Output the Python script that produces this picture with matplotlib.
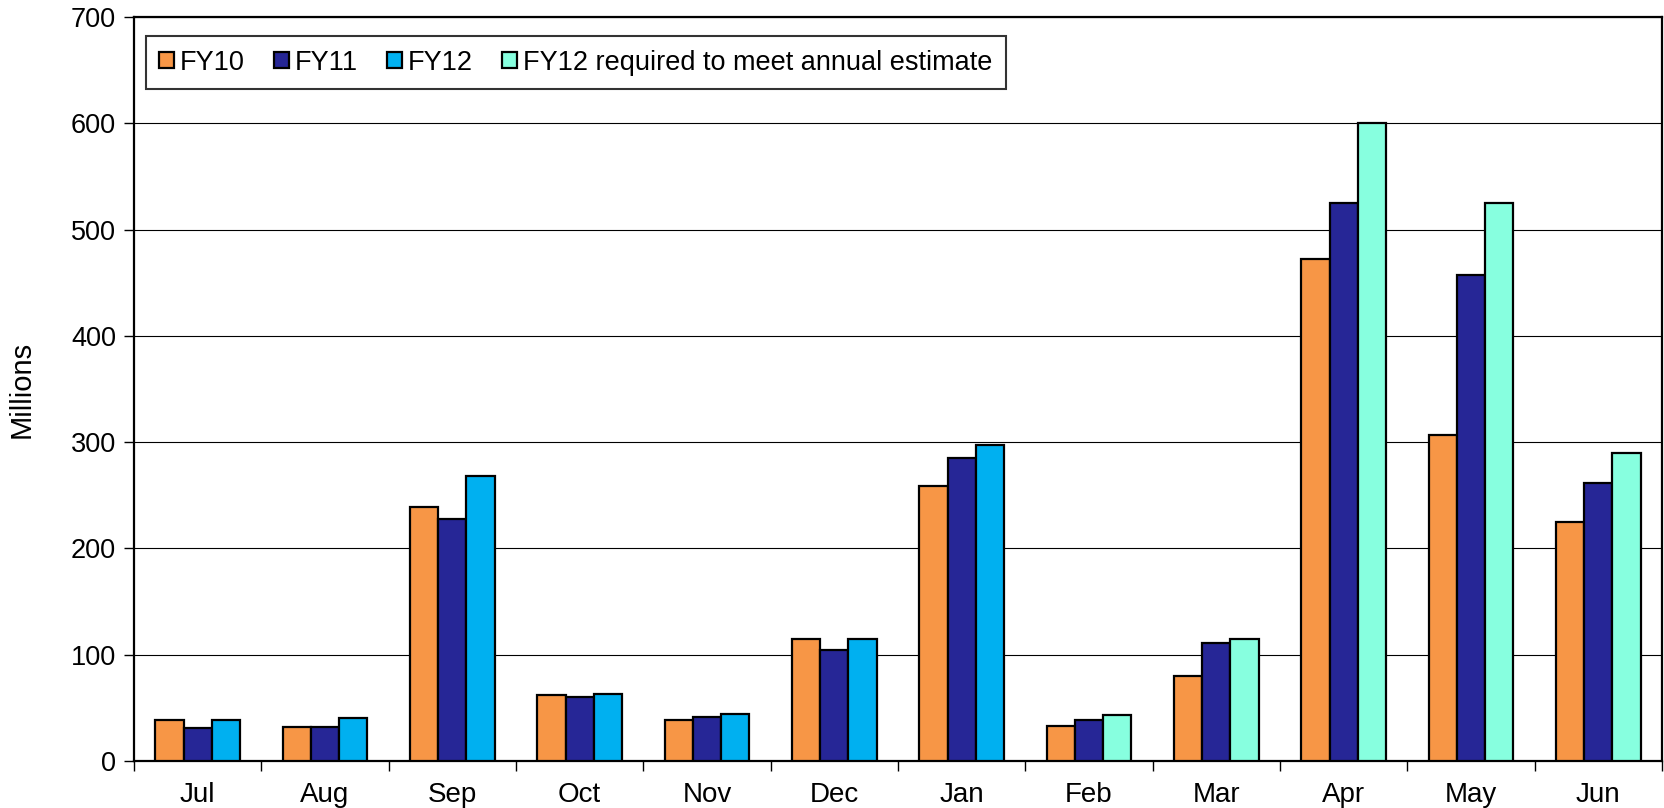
import numpy as np
import matplotlib
matplotlib.use("Agg")
import matplotlib.pyplot as plt

plt.rcParams['font.family'] = ['Liberation Sans', 'DejaVu Sans']

months = ["Jul", "Aug", "Sep", "Oct", "Nov", "Dec", "Jan", "Feb", "Mar", "Apr", "May", "Jun"]
fy10 = [39, 32, 239, 62, 39, 115, 259, 33, 80, 472, 307, 225]
fy11 = [31, 32, 228, 60, 41, 104, 285, 39, 111, 525, 457, 262]
fy12 = [39, 40, 268, 63, 44, 115, 297, np.nan, np.nan, np.nan, np.nan, np.nan]
fy12_req = [np.nan, np.nan, np.nan, np.nan, np.nan, np.nan, np.nan, 43, 115, 600, 525, 290]

labels = ["FY10", "FY11", "FY12", "FY12 required to meet annual estimate"]
colors = ["#F79646", "#262696", "#00B0F0", "#87FFDF"]

fig = plt.figure(figsize=(16.64, 8.08), dpi=100)
ax = fig.add_axes([134 / 1664, 1 - 761 / 808, (1662 - 134) / 1664, (761 - 17) / 808])

x = np.arange(len(months))
w = 0.222
offsets = [-w, 0, w, w]
series = [fy10, fy11, fy12, fy12_req]
for vals, off, col, lab in zip(series, offsets, colors, labels):
    ax.bar(x + off, vals, width=w, color=col, edgecolor="black", linewidth=1.6,
           label=lab, zorder=3)

ax.set_xlim(-0.5, len(months) - 0.5)
ax.set_ylim(0, 700)
ax.set_yticks(np.arange(0, 701, 100))
ax.yaxis.grid(True, color="black", linewidth=0.8, zorder=0)

# category boundaries get the tick marks, month names sit in between
ax.set_xticks(np.arange(-0.5, len(months), 1.0))
ax.set_xticklabels([])
ax.set_xticks(x, minor=True)
ax.set_xticklabels(months, minor=True)
ax.tick_params(axis="x", which="minor", length=0, labelsize=20, pad=15)
ax.tick_params(axis="x", which="major", length=7, width=1)
ax.tick_params(axis="y", length=7, width=1, labelsize=19.5, pad=6)

for s in ax.spines.values():
    s.set_linewidth(1.6)

ax.set_ylabel("Millions", fontsize=21, labelpad=25)

leg = ax.legend(loc="upper left", bbox_to_anchor=(0.0076, 0.974), borderaxespad=0,
                ncol=4, frameon=True, fancybox=False, edgecolor="black",
                fontsize=19.5, handlelength=0.55, handleheight=0.55, handletextpad=0.2,
                columnspacing=1.1, borderpad=0.5)
leg.get_frame().set_linewidth(1.5)

fig.savefig("out.png", dpi=100)
